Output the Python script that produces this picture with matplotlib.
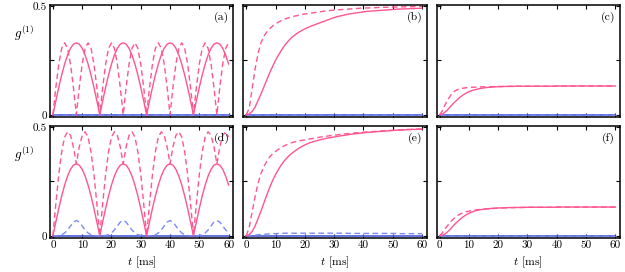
import numpy as np
import matplotlib
matplotlib.use("Agg")
import matplotlib.pyplot as plt

plt.rcParams['font.family'] = 'serif'
plt.rcParams['font.serif'] = ['cmr10', 'DejaVu Serif']
plt.rcParams['mathtext.fontset'] = 'cm'
plt.rcParams['axes.formatter.use_mathtext'] = True
plt.rcParams['font.size'] = 8

# time axis [ms]
t = list(range(61))

# panel (a)
a_solid = [0, .064, .126, .183, .233, .274, .305, .324, .33, .324, .305, .274, .233, .183, .126, .064,
           0, .064, .126, .183, .233, .274, .305, .324, .33, .324, .305, .274, .233, .183, .126, .064,
           0, .064, .126, .183, .233, .274, .305, .324, .33, .324, .305, .274, .233, .183, .126, .064,
           0, .064, .126, .183, .233, .274, .305, .324, .33, .324, .305, .274, .233]
a_dashed = [0, .126, .233, .305, .33, .305, .233, .126, 0, .126, .233, .305, .33, .305, .233, .126,
            0, .126, .233, .305, .33, .305, .233, .126, 0, .126, .233, .305, .33, .305, .233, .126,
            0, .126, .233, .305, .33, .305, .233, .126, 0, .126, .233, .305, .33, .305, .233, .126,
            0, .126, .233, .305, .33, .305, .233, .126, 0, .126, .233, .305, .33]

# panel (b)
b_solid = [0, .004, .015, .035, .065, .095, .127, .160, .193, .222, .250, .274, .296, .316, .333, .348,
           .360, .370, .379, .387, .394, .400, .406, .411, .416, .421, .426, .431, .436, .441, .446,
           .450, .453, .456, .459, .462, .464, .466, .468, .470, .472, .474, .475, .476, .477, .478,
           .479, .480, .481, .482, .483, .484, .485, .485, .486, .486, .487, .487, .488, .488, .489]
b_dashed = [0, .03, .12, .21, .28, .33, .36, .38, .395, .407, .417, .425, .432, .438, .443, .447,
            .451, .454, .457, .460, .462, .464, .466, .468, .470, .472, .474, .476, .477, .479, .480,
            .481, .482, .483, .484, .485, .486, .487, .488, .489, .489, .490, .490, .491, .491, .492,
            .492, .493, .493, .494, .494, .494, .495, .495, .495, .496, .496, .496, .497, .497, .497]

# panel (c)
c_solid = [0, .004, .014, .027, .042, .056, .069, .081, .091, .099, .106, .111, .115, .118, .121, .123,
           .125, .126, .127, .128, .129, .129, .130, .130, .130, .130, .131, .131, .131, .131, .131,
           .131, .131, .131, .131, .131, .131, .131, .131, .131, .132, .132, .132, .132, .132, .132,
           .132, .132, .132, .132, .132, .132, .132, .132, .132, .132, .132, .132, .132, .132, .132]
c_dashed = [0, .02, .05, .074, .094, .107, .115, .120, .122, .124, .125, .126, .127, .127, .128, .128,
            .129, .129, .129, .130, .130, .130, .130, .130, .131, .131, .131, .131, .131, .131, .131,
            .131, .131, .131, .131, .131, .131, .131, .131, .131, .132, .132, .132, .132, .132, .132,
            .132, .132, .132, .132, .132, .132, .132, .132, .132, .132, .132, .132, .132, .132, .132]

# panel (d)
d_solid = a_solid
d_dashed = [0, .148, .282, .386, .453, .477, .461, .408, .33, .408, .461, .477, .453, .386, .282, .148,
            0, .148, .282, .386, .453, .477, .461, .408, .33, .408, .461, .477, .453, .386, .282, .148,
            0, .148, .282, .386, .453, .477, .461, .408, .33, .408, .461, .477, .453, .386, .282, .148,
            0, .148, .282, .386, .453, .477, .461, .408, .33, .408, .461, .477, .453]
d_blue_dashed = [0, 0, .002, .005, .013, .027, .045, .063, .07, .063, .045, .027, .013, .005, .002, 0,
                 0, 0, .002, .005, .013, .027, .045, .063, .07, .063, .045, .027, .013, .005, .002, 0,
                 0, 0, .002, .005, .013, .027, .045, .063, .07, .063, .045, .027, .013, .005, .002, 0,
                 0, 0, .002, .005, .013, .027, .045, .063, .07, .063, .045, .027, .013]

# panel (e)
e_solid = [0, .005, .02, .045, .078, .113, .15, .187, .222, .254, .281, .305, .326, .344, .359, .372,
           .383, .393, .402, .41, .417, .423, .428, .432, .436, .44, .443, .446, .449, .451, .453,
           .456, .458, .46, .462, .464, .466, .468, .469, .471, .472, .474, .475, .476, .477, .478,
           .479, .48, .481, .482, .483, .484, .485, .485, .486, .487, .487, .488, .488, .489, .489]
e_dashed = [0, .04, .11, .18, .24, .285, .317, .342, .362, .376, .387, .397, .405, .413, .419, .425,
            .429, .432, .435, .438, .44, .443, .445, .447, .45, .452, .454, .456, .458, .46, .461,
            .463, .465, .466, .468, .469, .47, .472, .473, .474, .475, .476, .477, .478, .479, .48,
            .481, .482, .483, .483, .484, .485, .486, .486, .487, .488, .488, .489, .489, .49, .49]
e_blue_dashed = [0, .001, .002, .003, .005, .006, .007, .008, .009, .01, .01, .011, .011, .012, .012, .012,
                 .012, .012, .012, .012, .012, .012, .012, .012, .012, .012, .012, .012, .012, .012, .012,
                 .012, .012, .012, .012, .011, .011, .011, .011, .011, .011, .011, .011, .011, .011, .011,
                 .011, .011, .011, .011, .011, .011, .01, .01, .01, .01, .01, .01, .01, .01, .01]

# panel (f)
f_solid = [0, .003, .01, .022, .036, .051, .064, .076, .087, .096, .103, .109, .114, .117, .12, .122,
           .124, .125, .126, .127, .128, .128, .129, .129, .13, .13, .13, .13, .13, .131, .131,
           .131, .131, .131, .131, .131, .131, .131, .131, .131, .132, .132, .132, .132, .132, .132,
           .132, .132, .132, .132, .132, .132, .132, .132, .132, .132, .132, .132, .132, .132, .132]
f_dashed = [0, .015, .034, .052, .068, .081, .092, .1, .106, .11, .113, .116, .118, .12, .121, .122,
            .123, .124, .125, .126, .127, .127, .128, .128, .129, .129, .13, .13, .13, .13, .131,
            .131, .131, .131, .131, .131, .131, .131, .131, .131, .132, .132, .132, .132, .132, .132,
            .132, .132, .132, .132, .132, .132, .132, .132, .132, .132, .132, .132, .132, .132, .132]

blue_zero = [0.0] * 61

panels = [
    ("(a)", a_solid, a_dashed, blue_zero),
    ("(b)", b_solid, b_dashed, blue_zero),
    ("(c)", c_solid, c_dashed, blue_zero),
    ("(d)", d_solid, d_dashed, d_blue_dashed),
    ("(e)", e_solid, e_dashed, e_blue_dashed),
    ("(f)", f_solid, f_dashed, blue_zero),
]

pink = '#ff5590'
blue = '#4a5ad8'
light_blue = '#7a8af5'

fig, axes = plt.subplots(2, 3, figsize=(6.25, 2.72), dpi=100)
fig.subplots_adjust(left=0.08, right=0.992, bottom=0.125, top=0.982, wspace=0.055, hspace=0.08)

for i, (ax, (lab, sol, dsh, bdsh)) in enumerate(zip(axes.flat, panels)):
    ax.plot(t, blue_zero, color=blue, lw=1.2)
    ax.plot(t, bdsh, color=light_blue, lw=1.0, dashes=(4, 2.5))
    ax.plot(t, sol, color=pink, lw=1.0)
    ax.plot(t, dsh, color=pink, lw=1.0, dashes=(4, 2.5))

    ax.set_xlim(-1, 61.6)
    ax.set_ylim(-0.01, 0.504)
    ax.set_xticks([0, 10, 20, 30, 40, 50, 60])
    ax.set_yticks([0, 0.25, 0.5])
    ax.tick_params(direction='in', top=True, right=True, length=3, width=0.8, pad=2)
    for s in ax.spines.values():
        s.set_linewidth(1.1)

    row, col = divmod(i, 3)
    if col == 0:
        ax.set_yticklabels(['0', '', '0.5'])
        ax.text(-0.14, 0.75, r'$g^{(1)}$', transform=ax.transAxes, ha='center', va='center', fontsize=9.5)
    else:
        ax.set_yticklabels([])
    if row == 1:
        ax.set_xticklabels(['0', '10', '20', '30', '40', '50', '60'])
        ax.set_xlabel(r'$t$ [ms]', fontsize=8.5, labelpad=3)
    else:
        ax.set_xticklabels([])

    ax.text(0.935, 0.89, lab, transform=ax.transAxes, ha='center', va='center', fontsize=8.5)

fig.savefig('out.png', dpi=100)
